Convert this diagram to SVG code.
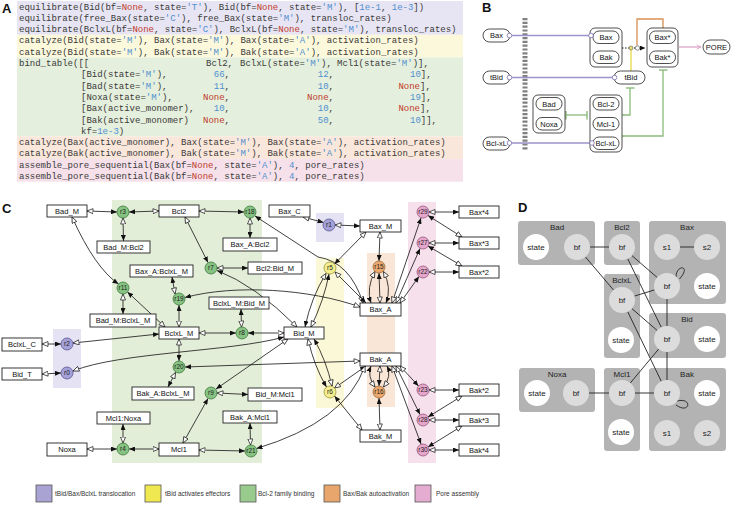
<svg xmlns="http://www.w3.org/2000/svg" width="733" height="507" viewBox="0 0 733 507">
<defs>
<style>
.code{font-family:"Liberation Mono","DejaVu Sans Mono",monospace;font-size:9px;fill:#3a3a3a}
.nn{fill:#c0392b}
.sv{fill:#4f8fd0}
.pl{font-family:"Liberation Sans",Arial,sans-serif;font-weight:bold;font-size:13px;fill:#111}
.cb rect{fill:#fff;stroke:#222;stroke-width:0.9}
.t{font-family:"Liberation Sans",Arial,sans-serif;font-size:7.5px;fill:#111;text-anchor:middle}
.rc text{font-family:"Liberation Sans",Arial,sans-serif;font-size:6.5px;fill:#222;text-anchor:middle}
.rc circle{stroke-width:0.8}
.g circle{fill:#86c281;stroke:#3e7a3e}
.p circle{fill:#a4a0d8;stroke:#5a5690}
.y circle{fill:#f4ef8e;stroke:#9a9440}
.o circle{fill:#eba86e;stroke:#9a6a3a}
.k circle{fill:#e6a6cc;stroke:#96587c}
.e{fill:none;stroke:#111;stroke-width:0.8;marker-start:url(#oa);marker-end:url(#fa)}
.pill rect{fill:#fff;stroke:#222;stroke-width:0.8}
.grp{fill:#c4c4c4;stroke:#222;stroke-width:0.8}
.tl{stroke:#9b93c9;stroke-width:1.3;fill:none}
.oc{fill:#fff;stroke:#7a72b0;stroke-width:0.8}
.gl{stroke:#8aba7a;stroke-width:1.3;fill:none}
.dbox{fill:#b3b3b3}
.bfc{fill:#dcdcdc}
.stc{fill:#fff}
.dt{font-family:"Liberation Sans",Arial,sans-serif;font-size:8px;fill:#222;text-anchor:middle}
.de{stroke:#222;stroke-width:0.9;fill:none}
.lg{font-family:"Liberation Sans",Arial,sans-serif;font-size:6.5px;fill:#333}
.lgs{stroke:#555;stroke-width:0.8}
</style>
<marker id="fa" markerUnits="userSpaceOnUse" markerWidth="6" markerHeight="5" viewBox="0 0 6 5" refX="6" refY="2.5" orient="auto"><path d="M0,0 L6,2.5 L0,5 z" fill="#111"/></marker>
<marker id="oa" markerUnits="userSpaceOnUse" markerWidth="7" markerHeight="6" viewBox="-0.5 -0.5 7 6" refX="6" refY="2.5" orient="auto-start-reverse"><path d="M0,0 L6,2.5 L0,5 z" fill="#fff" stroke="#111" stroke-width="0.7"/></marker>
<marker id="tb" markerUnits="userSpaceOnUse" markerWidth="2" markerHeight="9" viewBox="0 0 2 9" refX="1" refY="4.5" orient="auto"><rect x="0.3" width="1.4" height="9" fill="#8aba7a"/></marker>
<marker id="ba" markerUnits="userSpaceOnUse" markerWidth="5" markerHeight="5" viewBox="0 0 5 5" refX="5" refY="2.5" orient="auto"><path d="M0,0 L5,2.5 L0,5 z" fill="#111"/></marker>
<marker id="pa" markerUnits="userSpaceOnUse" markerWidth="7" markerHeight="6" viewBox="-1 -1 7 7" refX="5" refY="2.5" orient="auto"><path d="M0,0 L5,2.5 L0,5" fill="none" stroke="#d8a0c4" stroke-width="1"/></marker>
</defs>

<!-- Panel A -->
<g id="panelA">
<rect x="17" y="1" width="446" height="33.8" fill="#e7e5f3"/>
<rect x="17" y="34.8" width="446" height="22.6" fill="#fcf8dc"/>
<rect x="17" y="57.4" width="446" height="79" fill="#e5efdd"/>
<rect x="17" y="136.4" width="446" height="22.7" fill="#fae7db"/>
<rect x="17" y="159.1" width="446" height="22.6" fill="#f6e1ea"/>
<text class="pl" x="2" y="13">A</text>
<text class="code" x="19" y="9.5" xml:space="preserve">equilibrate(Bid(bf=<tspan class="nn">None</tspan>, state=<tspan class="sv">'T'</tspan>), Bid(bf=<tspan class="nn">None</tspan>, state=<tspan class="sv">'M'</tspan>), [<tspan class="sv">1e-1</tspan>, <tspan class="sv">1e-3</tspan>])</text>
<text class="code" x="19" y="20.8" xml:space="preserve">equilibrate(free_Bax(state=<tspan class="sv">'C'</tspan>), free_Bax(state=<tspan class="sv">'M'</tspan>), transloc_rates)</text>
<text class="code" x="19" y="32.1" xml:space="preserve">equilibrate(BclxL(bf=<tspan class="nn">None</tspan>, state=<tspan class="sv">'C'</tspan>), BclxL(bf=<tspan class="nn">None</tspan>, state=<tspan class="sv">'M'</tspan>), transloc_rates)</text>
<text class="code" x="19" y="43.4" xml:space="preserve">catalyze(Bid(state=<tspan class="sv">'M'</tspan>), Bax(state=<tspan class="sv">'M'</tspan>), Bax(state=<tspan class="sv">'A'</tspan>), activation_rates)</text>
<text class="code" x="19" y="54.7" xml:space="preserve">catalyze(Bid(state=<tspan class="sv">'M'</tspan>), Bak(state=<tspan class="sv">'M'</tspan>), Bak(state=<tspan class="sv">'A'</tspan>), activation_rates)</text>
<text class="code" x="19" y="66" xml:space="preserve">bind_table([[</text>
<text class="code" x="206" y="66">Bcl2,</text>
<text class="code" x="240" y="66" xml:space="preserve">BclxL(state=<tspan class="sv">'M'</tspan>),</text>
<text class="code" x="337" y="66" xml:space="preserve">Mcl1(state=<tspan class="sv">'M'</tspan>)],</text>
<text class="code" x="81" y="77.3" xml:space="preserve">[Bid(state=<tspan class="sv">'M'</tspan>),</text>
<text class="code" x="213.8" y="77.3"><tspan class="sv">66</tspan>,</text>
<text class="code" x="317.8" y="77.3"><tspan class="sv">12</tspan>,</text>
<text class="code" x="410" y="77.3"><tspan class="sv">10</tspan>],</text>
<text class="code" x="81" y="88.6" xml:space="preserve">[Bad(state=<tspan class="sv">'M'</tspan>),</text>
<text class="code" x="213.8" y="88.6"><tspan class="sv">11</tspan>,</text>
<text class="code" x="317.8" y="88.6"><tspan class="sv">10</tspan>,</text>
<text class="code" x="398.4" y="88.6"><tspan class="nn">None</tspan>],</text>
<text class="code" x="81" y="99.9" xml:space="preserve">[Noxa(state=<tspan class="sv">'M'</tspan>),</text>
<text class="code" x="203" y="99.9"><tspan class="nn">None</tspan>,</text>
<text class="code" x="307" y="99.9"><tspan class="nn">None</tspan>,</text>
<text class="code" x="410" y="99.9"><tspan class="sv">19</tspan>],</text>
<text class="code" x="81" y="111.2">[Bax(active_monomer),</text>
<text class="code" x="213.8" y="111.2"><tspan class="sv">10</tspan>,</text>
<text class="code" x="317.8" y="111.2"><tspan class="sv">10</tspan>,</text>
<text class="code" x="398.4" y="111.2"><tspan class="nn">None</tspan>],</text>
<text class="code" x="81" y="122.5">[Bak(active_monomer)</text>
<text class="code" x="203" y="122.5"><tspan class="nn">None</tspan>,</text>
<text class="code" x="317.8" y="122.5"><tspan class="sv">50</tspan>,</text>
<text class="code" x="410" y="122.5"><tspan class="sv">10</tspan>]],</text>
<text class="code" x="81" y="133.8">kf=<tspan class="sv">1e-3</tspan>)</text>
<text class="code" x="19" y="145.1" xml:space="preserve">catalyze(Bax(active_monomer), Bax(state=<tspan class="sv">'M'</tspan>), Bax(state=<tspan class="sv">'A'</tspan>), activation_rates)</text>
<text class="code" x="19" y="156.4" xml:space="preserve">catalyze(Bak(active_monomer), Bak(state=<tspan class="sv">'M'</tspan>), Bak(state=<tspan class="sv">'A'</tspan>), activation_rates)</text>
<text class="code" x="19" y="167.7" xml:space="preserve">assemble_pore_sequential(Bax(bf=<tspan class="nn">None</tspan>, state=<tspan class="sv">'A'</tspan>), <tspan class="sv">4</tspan>, pore_rates)</text>
<text class="code" x="19" y="179" xml:space="preserve">assemble_pore_sequential(Bak(bf=<tspan class="nn">None</tspan>, state=<tspan class="sv">'A'</tspan>), <tspan class="sv">4</tspan>, pore_rates)</text>
</g>

<!-- Panel B -->
<text class="pl" x="482" y="12">B</text>
<line x1="525" y1="18" x2="525" y2="151" stroke="#808080" stroke-width="5" stroke-dasharray="2.2 1.6"/>
<g id="b-connectors">
<line class="tl" x1="510" y1="35.5" x2="590" y2="35.5"/>
<line class="tl" x1="510" y1="77.5" x2="614" y2="77.5"/>
<line class="tl" x1="510" y1="143" x2="592" y2="143"/>
<path d="M622 48 L645 48" stroke="#111" stroke-width="1" stroke-dasharray="1.5 1.5" fill="none" marker-end="url(#ba)"/>
<path d="M631 71 L631 50" stroke="#e6d84a" stroke-width="1.3" fill="none"/>
<path d="M663 28 L663 19 L637 19 L637 45.5" stroke="#d89050" stroke-width="1.3" fill="none"/>
<circle cx="631" cy="48" r="2" fill="#eee070" stroke="#444" stroke-width="0.5"/>
<circle cx="637.5" cy="48" r="2.2" fill="#fff" stroke="#444" stroke-width="0.6"/>
<path d="M679 47 L701 47" stroke="#d8a0c4" stroke-width="1.2" fill="none" marker-end="url(#pa)"/>
<path class="gl" d="M622 115 L630 115 L630 88" marker-end="url(#tb)"/>
<path class="gl" d="M622 136 L663 136 L663 70" marker-end="url(#tb)"/>
<path class="gl" d="M587 115 L566 115" marker-start="url(#tb)" marker-end="url(#tb)"/>
</g>
<g id="b-Bax-C" class="pill"><rect x="483" y="29" width="27" height="13" rx="6.5"/><text class="t" x="496.5" y="38.2">Bax</text></g>
<g id="b-tBid-C" class="pill"><rect x="483" y="71" width="27" height="13" rx="6.5"/><text class="t" x="496.5" y="80.2">tBid</text></g>
<g id="b-BclxL-C" class="pill"><rect x="483" y="137" width="27" height="13" rx="6.5"/><text class="t" x="496.5" y="146.2">Bcl-xL</text></g>
<g id="b-BaxBak" class="pill"><rect class="grp" x="590" y="28" width="32" height="39" rx="5"/><rect x="593" y="31" width="26" height="12.5" rx="6"/><text class="t" x="606" y="40">Bax</text><rect x="593" y="51" width="26" height="12.5" rx="6"/><text class="t" x="606" y="60">Bak</text></g>
<g id="b-BaxBakStar" class="pill"><rect class="grp" x="647" y="28" width="31" height="39" rx="5"/><rect x="649.5" y="31" width="26" height="12.5" rx="6"/><text class="t" x="662.5" y="40">Bax*</text><rect x="649.5" y="51" width="26" height="12.5" rx="6"/><text class="t" x="662.5" y="60">Bak*</text></g>
<g id="b-PORE" class="pill"><rect x="703" y="40" width="27" height="14" rx="7"/><text class="t" x="716.5" y="49.8">PORE</text></g>
<g id="b-tBid-M" class="pill"><rect x="614" y="71" width="31" height="13" rx="6.5"/><text class="t" x="631" y="80.2">tBid</text></g>
<g id="b-BadNoxa" class="pill"><rect class="grp" x="533" y="95" width="32" height="38" rx="5"/><rect x="536" y="97.5" width="26" height="12.5" rx="6"/><text class="t" x="549" y="106.5">Bad</text><rect x="536" y="117.5" width="26" height="12.5" rx="6"/><text class="t" x="549" y="126.5">Noxa</text></g>
<g id="b-Bcl" class="pill"><rect class="grp" x="590" y="95" width="32" height="57" rx="5"/><rect x="593" y="97.5" width="26" height="12.5" rx="6"/><text class="t" x="606" y="106.5">Bcl-2</text><rect x="593" y="117.5" width="26" height="12.5" rx="6"/><text class="t" x="606" y="126.5">Mcl-1</text><rect x="593" y="137" width="26" height="12.5" rx="6"/><text class="t" x="606" y="146">Bcl-xL</text></g>
<g id="b-circles">
<circle class="oc" cx="509.5" cy="35.5" r="2.3"/><circle class="oc" cx="591" cy="35.5" r="2.3"/>
<circle class="oc" cx="509.5" cy="77.5" r="2.3"/><circle class="oc" cx="614.5" cy="77.5" r="2.3"/>
<circle class="oc" cx="509.5" cy="143" r="2.3"/><circle class="oc" cx="592" cy="143" r="2.3"/>
</g>

<!-- Panel C backgrounds -->
<g id="c-bg">
<rect x="112" y="200" width="150" height="263" fill="#e3eed9"/>
<rect x="316" y="213" width="28" height="29" fill="#e5e3f3"/>
<rect x="53" y="329" width="28" height="59" fill="#e5e3f3"/>
<rect x="316" y="258" width="28" height="150" fill="#fbf8d8"/>
<rect x="367" y="253" width="28" height="154" fill="#f9e6d7"/>
<rect x="408" y="202" width="28" height="261" fill="#f5e0eb"/>
</g>
<text class="pl" x="2" y="213">C</text>

<g id="c-connectors">
<path class="e" d="M87 211 L117 212"/>
<path class="e" d="M159 211 L129 212"/>
<path class="e" d="M123 218 L123.5 241"/>
<path class="e" d="M199 211 L244 212"/>
<path class="e" d="M250 218 L250 238"/>
<path class="e" d="M363 303 Q 350 262 318 257 L 255 216"/>
<path class="e" d="M303 217 L323.5 222.5"/>
<path class="e" d="M335 225 L360 226"/>
<path class="e" d="M185 217 L208 262.5"/>
<path class="e" d="M297 327 Q 255 285 217 270.5"/>
<path class="e" d="M217 268 L248 268"/>
<path class="e" d="M366 232 L334.5 264"/>
<path class="e" d="M311 327 Q 324 300 329 274"/>
<path class="e" d="M326 273.5 Q 311 298 305 327"/>
<path class="e" d="M335 272 L366 303"/>
<path class="e" d="M380 232 L379 261"/>
<path class="e" d="M380 303 L379 273"/>
<path class="e" d="M375 271.5 Q 366 288 371 303"/>
<path class="e" d="M383.5 271.5 Q 392 288 386 303"/>
<path class="e" d="M400 303 L419 276.5"/>
<path class="e" d="M396 303 L420 248.5"/>
<path class="e" d="M392 303 L421 218"/>
<path class="e" d="M429 272 L459 272"/>
<path class="e" d="M462 266 L428 246"/>
<path class="e" d="M429 243 L459 243"/>
<path class="e" d="M462 237 L428 215.5"/>
<path class="e" d="M429 212 L459 212"/>
<path class="e" d="M72 217 Q 95 268 118.5 284"/>
<path class="e" d="M165 327 L127.5 292"/>
<path class="e" d="M123 294 L123 314"/>
<path class="e" d="M179 327 L179 305"/>
<path class="e" d="M175 294 L172 277"/>
<path class="e" d="M360 307 C 310 289, 235 284, 185 297.5"/>
<path class="e" d="M199 333 L236 333"/>
<path class="e" d="M284 333 L248 333"/>
<path class="e" d="M241.5 327 L241 309"/>
<path class="e" d="M42 344 L61 344"/>
<path class="e" d="M73 343 L159 334"/>
<path class="e" d="M42 374 L61 373"/>
<path class="e" d="M73 371 C 120 352, 230 352, 284 337"/>
<path class="e" d="M179 339 L179 361"/>
<path class="e" d="M175.5 372.5 L168 387"/>
<path class="e" d="M360 361 L185 367"/>
<path class="e" d="M183 443 L208 398.5"/>
<path class="e" d="M288 339 L216 389"/>
<path class="e" d="M217 393 L248 394.5"/>
<path class="e" d="M308 339 Q 314 366 326.5 387"/>
<path class="e" d="M332 386 Q 326 360 314 339"/>
<path class="e" d="M334.5 388 L366 366"/>
<path class="e" d="M362 430 L334.5 396"/>
<path class="e" d="M380 430 L379 398"/>
<path class="e" d="M380 366 L379 386"/>
<path class="e" d="M375 387 Q 367 376 371 366"/>
<path class="e" d="M383.5 387 Q 392 376 387 366"/>
<path class="e" d="M400 366 L418.5 386"/>
<path class="e" d="M396 366 L420 414.5"/>
<path class="e" d="M392 366 L421 444"/>
<path class="e" d="M429 390 L459 390"/>
<path class="e" d="M462 396 L428 417"/>
<path class="e" d="M429 420 L459 420"/>
<path class="e" d="M462 426 L428 447"/>
<path class="e" d="M429 450 L459 450"/>
<path class="e" d="M87 449 L117 449"/>
<path class="e" d="M159 449 L129 449"/>
<path class="e" d="M123 443 L123 424"/>
<path class="e" d="M199 450 L245 451"/>
<path class="e" d="M250.5 445 L250 423"/>
<path class="e" d="M365 366 Q 345 422 256.5 448.5"/>
</g>

<g id="c-species">
<g id="Bad_M" class="cb"><rect x="47" y="205" width="40" height="12"/><text class="t" x="67" y="213.8">Bad_M</text></g>
<g id="Bcl2" class="cb"><rect x="159" y="205" width="40" height="12"/><text class="t" x="179" y="213.8">Bcl2</text></g>
<g id="Bax_C" class="cb"><rect x="269" y="205" width="41" height="12"/><text class="t" x="289.5" y="213.8">Bax_C</text></g>
<g id="Bax_M" class="cb"><rect x="360" y="220" width="41" height="12"/><text class="t" x="380.5" y="228.8">Bax_M</text></g>
<g id="Bad_M_Bcl2" class="cb"><rect x="97" y="241" width="53" height="12"/><text class="t" x="123.5" y="249.8">Bad_M:Bcl2</text></g>
<g id="Bax_A_Bcl2" class="cb"><rect x="223" y="238" width="54" height="13"/><text class="t" x="250" y="247.2">Bax_A:Bcl2</text></g>
<g id="Bax_A_BclxL_M" class="cb"><rect x="130" y="265" width="63" height="12"/><text class="t" x="161.5" y="273.8">Bax_A:BclxL_M</text></g>
<g id="Bcl2_Bid_M" class="cb"><rect x="248" y="262" width="54" height="12"/><text class="t" x="275" y="270.8">Bcl2:Bid_M</text></g>
<g id="BclxL_M_Bid_M" class="cb"><rect x="209" y="297" width="60" height="12"/><text class="t" x="239" y="305.8">BclxL_M:Bid_M</text></g>
<g id="Bax_A" class="cb"><rect x="360" y="303" width="41" height="13"/><text class="t" x="380.5" y="312.2">Bax_A</text></g>
<g id="Bad_M_BclxL_M" class="cb"><rect x="90" y="314" width="66" height="13"/><text class="t" x="123" y="323.2">Bad_M:BclxL_M</text></g>
<g id="BclxL_M" class="cb"><rect x="159" y="327" width="40" height="12"/><text class="t" x="179" y="335.8">BclxL_M</text></g>
<g id="Bid_M" class="cb"><rect x="284" y="327" width="40" height="12"/><text class="t" x="304" y="335.8">Bid_M</text></g>
<g id="BclxL_C" class="cb"><rect x="2" y="338" width="40" height="13"/><text class="t" x="22" y="347.2">BclxL_C</text></g>
<g id="Bid_T" class="cb"><rect x="2" y="368" width="40" height="12"/><text class="t" x="22" y="376.8">Bid_T</text></g>
<g id="Bak_A" class="cb"><rect x="360" y="353" width="41" height="13"/><text class="t" x="380.5" y="362.2">Bak_A</text></g>
<g id="Bak_A_BclxL_M" class="cb"><rect x="132" y="387" width="62" height="13"/><text class="t" x="163" y="396.2">Bak_A:BclxL_M</text></g>
<g id="Bid_M_Mcl1" class="cb"><rect x="248" y="388" width="54" height="13"/><text class="t" x="275" y="397.2">Bid_M:Mcl1</text></g>
<g id="Mcl1_Noxa" class="cb"><rect x="97" y="412" width="53" height="12"/><text class="t" x="123.5" y="420.8">Mcl1:Noxa</text></g>
<g id="Bak_A_Mcl1" class="cb"><rect x="223" y="411" width="54" height="12"/><text class="t" x="250" y="419.8">Bak_A:Mcl1</text></g>
<g id="Bak_M" class="cb"><rect x="360" y="430" width="41" height="12"/><text class="t" x="380.5" y="438.8">Bak_M</text></g>
<g id="Noxa" class="cb"><rect x="47" y="443" width="40" height="13"/><text class="t" x="67" y="452.2">Noxa</text></g>
<g id="Mcl1" class="cb"><rect x="159" y="443" width="40" height="13"/><text class="t" x="179" y="452.2">Mcl1</text></g>
<g id="Bax4" class="cb"><rect x="459" y="206" width="40" height="12"/><text class="t" x="479" y="214.8">Bax*4</text></g>
<g id="Bax3" class="cb"><rect x="459" y="237" width="40" height="12"/><text class="t" x="479" y="245.8">Bax*3</text></g>
<g id="Bax2" class="cb"><rect x="459" y="266" width="40" height="12"/><text class="t" x="479" y="274.8">Bax*2</text></g>
<g id="Bak2" class="cb"><rect x="459" y="384" width="40" height="12"/><text class="t" x="479" y="392.8">Bak*2</text></g>
<g id="Bak3" class="cb"><rect x="459" y="414" width="40" height="12"/><text class="t" x="479" y="422.8">Bak*3</text></g>
<g id="Bak4" class="cb"><rect x="459" y="444" width="40" height="12"/><text class="t" x="479" y="452.8">Bak*4</text></g>
</g>

<g id="c-reactions">
<g id="r3" class="rc g"><circle cx="123" cy="212" r="6"/><text x="123" y="214.3">r3</text></g>
<g id="r18" class="rc g"><circle cx="250" cy="212" r="6"/><text x="250" y="214.3">r18</text></g>
<g id="r1" class="rc p"><circle cx="329" cy="225" r="6"/><text x="329" y="227.3">r1</text></g>
<g id="r7" class="rc g"><circle cx="211" cy="268" r="6"/><text x="211" y="270.3">r7</text></g>
<g id="r5" class="rc y"><circle cx="330" cy="268" r="6"/><text x="330" y="270.3">r5</text></g>
<g id="r15" class="rc o"><circle cx="379" cy="267" r="6"/><text x="379" y="269.3">r15</text></g>
<g id="r29" class="rc k"><circle cx="423" cy="212" r="6"/><text x="423" y="214.3">r29</text></g>
<g id="r27" class="rc k"><circle cx="423" cy="243" r="6"/><text x="423" y="245.3">r27</text></g>
<g id="r22" class="rc k"><circle cx="423" cy="272" r="6"/><text x="423" y="274.3">r22</text></g>
<g id="r11" class="rc g"><circle cx="123" cy="288" r="6"/><text x="123" y="290.3">r11</text></g>
<g id="r19" class="rc g"><circle cx="179" cy="299" r="6"/><text x="179" y="301.3">r19</text></g>
<g id="r8" class="rc g"><circle cx="242" cy="333" r="6"/><text x="242" y="335.3">r8</text></g>
<g id="r2" class="rc p"><circle cx="67" cy="344" r="6"/><text x="67" y="346.3">r2</text></g>
<g id="r0" class="rc p"><circle cx="67" cy="373" r="6"/><text x="67" y="375.3">r0</text></g>
<g id="r20" class="rc g"><circle cx="179" cy="367" r="6"/><text x="179" y="369.3">r20</text></g>
<g id="r9" class="rc g"><circle cx="211" cy="393" r="6"/><text x="211" y="395.3">r9</text></g>
<g id="r6" class="rc y"><circle cx="330" cy="392" r="6"/><text x="330" y="394.3">r6</text></g>
<g id="r16" class="rc o"><circle cx="379" cy="392" r="6"/><text x="379" y="394.3">r16</text></g>
<g id="r23" class="rc k"><circle cx="423" cy="390" r="6"/><text x="423" y="392.3">r23</text></g>
<g id="r28" class="rc k"><circle cx="423" cy="420" r="6"/><text x="423" y="422.3">r28</text></g>
<g id="r30" class="rc k"><circle cx="423" cy="450" r="6"/><text x="423" y="452.3">r30</text></g>
<g id="r4" class="rc g"><circle cx="123" cy="449" r="6"/><text x="123" y="451.3">r4</text></g>
<g id="r21" class="rc g"><circle cx="251" cy="451" r="6"/><text x="251" y="453.3">r21</text></g>
</g>

<!-- Panel D -->
<text class="pl" x="518" y="212">D</text>
<g id="d-boxes">
<rect class="dbox" x="518" y="221" width="77" height="44" rx="3"/>
<rect class="dbox" x="604" y="221" width="36" height="44" rx="3"/>
<rect class="dbox" x="649" y="221" width="77" height="83" rx="3"/>
<rect class="dbox" x="604" y="274" width="36" height="84" rx="3"/>
<rect class="dbox" x="649" y="313" width="77" height="45" rx="3"/>
<rect class="dbox" x="519" y="368" width="76" height="44" rx="3"/>
<rect class="dbox" x="604" y="368" width="36" height="83" rx="3"/>
<rect class="dbox" x="649" y="368" width="77" height="83" rx="3"/>
</g>
<g id="d-connectors">
<line class="de" x1="590" y1="247" x2="609" y2="247"/>
<line class="de" x1="680" y1="247" x2="694" y2="247"/>
<line class="de" x1="585.4" y1="256.9" x2="613.6" y2="290.1"/>
<line class="de" x1="631.8" y1="255.5" x2="657.2" y2="277.5"/>
<line class="de" x1="627.7" y1="258.7" x2="661.3" y2="327.3"/>
<line class="de" x1="634.4" y1="296.1" x2="654.6" y2="289.9"/>
<line class="de" x1="631.8" y1="308.5" x2="657.2" y2="330.5"/>
<line class="de" x1="627.7" y1="311.7" x2="661.3" y2="381.3"/>
<line class="de" x1="667" y1="299" x2="667" y2="326"/>
<line class="de" x1="667" y1="352" x2="667" y2="380"/>
<line class="de" x1="658.7" y1="349" x2="630.3" y2="383"/>
<line class="de" x1="635" y1="393" x2="654" y2="393"/>
<line class="de" x1="589" y1="393" x2="609" y2="393"/>
<path class="de" d="M676 277 C 676 264, 692 265, 679.5 279"/>
<path class="de" d="M677 401 C 693 397, 690 415, 676 405"/>
</g>
<g id="d-Bad"><text class="dt" x="557" y="230">Bad</text><circle class="stc" cx="536" cy="247" r="13"/><text class="dt" x="536" y="250">state</text><circle class="bfc" cx="577" cy="247" r="13"/><text class="dt" x="577" y="250">bf</text></g>
<g id="d-Bcl2"><text class="dt" x="622" y="230">Bcl2</text><circle class="bfc" cx="622" cy="247" r="13"/><text class="dt" x="622" y="250">bf</text></g>
<g id="d-Bax"><text class="dt" x="687" y="230">Bax</text><circle class="bfc" cx="667" cy="247" r="13"/><text class="dt" x="667" y="250">s1</text><circle class="bfc" cx="707" cy="247" r="13"/><text class="dt" x="707" y="250">s2</text><circle class="bfc" cx="667" cy="286" r="13"/><text class="dt" x="667" y="289">bf</text><circle class="stc" cx="707" cy="286" r="13"/><text class="dt" x="707" y="289">state</text></g>
<g id="d-BclxL"><text class="dt" x="622" y="283">BclxL</text><circle class="bfc" cx="622" cy="300" r="13"/><text class="dt" x="622" y="303">bf</text><circle class="stc" cx="621" cy="340" r="13"/><text class="dt" x="621" y="343">state</text></g>
<g id="d-Bid"><text class="dt" x="687" y="322">Bid</text><circle class="bfc" cx="667" cy="339" r="13"/><text class="dt" x="667" y="342">bf</text><circle class="stc" cx="707" cy="339" r="13"/><text class="dt" x="707" y="342">state</text></g>
<g id="d-Noxa"><text class="dt" x="557" y="377">Noxa</text><circle class="stc" cx="537" cy="393" r="13"/><text class="dt" x="537" y="396">state</text><circle class="bfc" cx="576" cy="393" r="13"/><text class="dt" x="576" y="396">bf</text></g>
<g id="d-Mcl1"><text class="dt" x="622" y="377">Mcl1</text><circle class="bfc" cx="622" cy="393" r="13"/><text class="dt" x="622" y="396">bf</text><circle class="stc" cx="621" cy="432" r="13"/><text class="dt" x="621" y="435">state</text></g>
<g id="d-Bak"><text class="dt" x="687" y="377">Bak</text><circle class="bfc" cx="667" cy="393" r="13"/><text class="dt" x="667" y="396">bf</text><circle class="stc" cx="707" cy="393" r="13"/><text class="dt" x="707" y="396">state</text><circle class="bfc" cx="667" cy="433" r="13"/><text class="dt" x="667" y="436">s1</text><circle class="bfc" cx="707" cy="433" r="13"/><text class="dt" x="707" y="436">s2</text></g>

<!-- Legend -->
<g id="legend">
<rect class="lgs" x="36" y="485" width="16" height="17" fill="#a9a3d3"/><text class="lg" x="55" y="496">tBid/Bax/BclxL translocation</text>
<rect class="lgs" x="145" y="485" width="16" height="17" fill="#f0e850"/><text class="lg" x="165" y="496">tBid activates effectors</text>
<rect class="lgs" x="240" y="485" width="16" height="17" fill="#9acb8e"/><text class="lg" x="258" y="496">Bcl-2 family binding</text>
<rect class="lgs" x="324" y="485" width="16" height="17" fill="#e8a66c"/><text class="lg" x="343" y="496">Bax/Bak autoactivation</text>
<rect class="lgs" x="415" y="485" width="16" height="17" fill="#e4acd0"/><text class="lg" x="436" y="496">Pore assembly</text>
</g>
</svg>
